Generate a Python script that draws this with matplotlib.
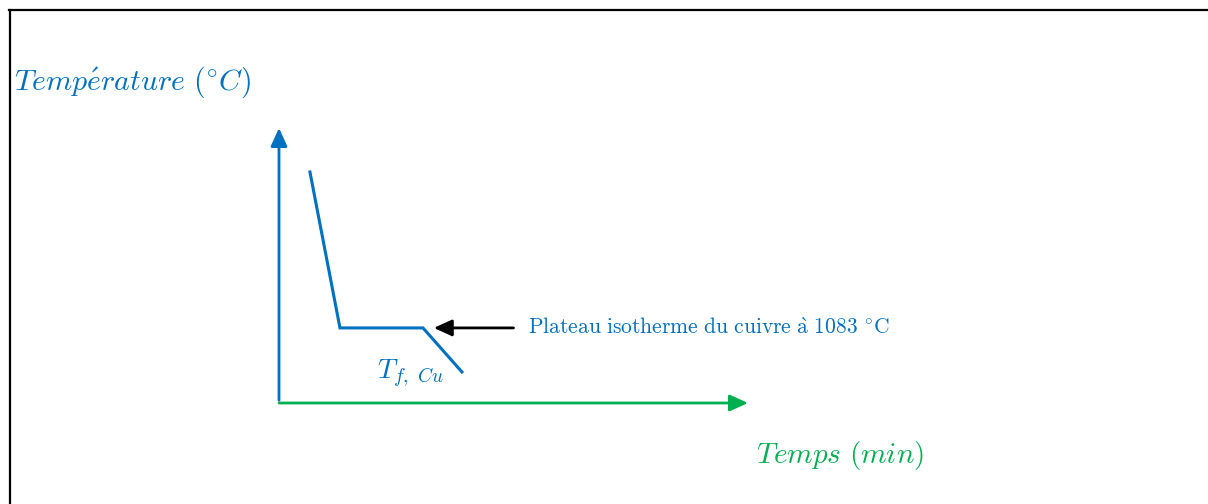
import matplotlib.pyplot as plt
from matplotlib.lines import Line2D

plt.rcParams['mathtext.fontset'] = 'cm'

BLUE = '#0070C0'
GREEN = '#00B050'

# cooling curve of copper (arbitrary units, axes 0..10)
time = [0.66, 1.30, 3.07, 3.90]
temperature = [8.4, 2.73, 2.73, 1.13]

W, H = 1208, 504
fig = plt.figure(figsize=(W / 100, H / 100), dpi=100)

# frame lines (top and left only)
fig.add_artist(Line2D([9 / W, 1], [1 - 10 / H, 1 - 10 / H], color='black', lw=1.6))
fig.add_artist(Line2D([9.5 / W, 9.5 / W], [0, 1 - 10 / H], color='black', lw=1.6))

ax = fig.add_axes([279 / W, (H - 403) / H, (748 - 279) / W, (403 - 128) / H])
ax.set_xlim(0, 10)
ax.set_ylim(0, 10)
ax.axis('off')

head = '-|>,head_length=0.55,head_width=0.25'
# y axis
ax.annotate('', xy=(0, 1), xytext=(0, 0.01), xycoords='axes fraction',
            arrowprops=dict(arrowstyle=head, color=BLUE, lw=2, mutation_scale=20,
                            shrinkA=0, shrinkB=0), annotation_clip=False)
# x axis
ax.annotate('', xy=(1, 0), xytext=(0, 0), xycoords='axes fraction',
            arrowprops=dict(arrowstyle=head, color=GREEN, lw=2, mutation_scale=20,
                            shrinkA=0, shrinkB=0), annotation_clip=False)

ax.plot(time, temperature, color=BLUE, lw=2.2, solid_joinstyle='miter', clip_on=False)

# plateau arrow
ax.annotate('', xy=(3.3, temperature[1]), xytext=(5.0, temperature[1]),
            arrowprops=dict(arrowstyle='-|>,head_length=0.55,head_width=0.25',
                            color='black', lw=2, mutation_scale=20,
                            shrinkA=0, shrinkB=0))
ax.text(5.3, temperature[1], r'$\mathrm{Plateau\ isotherme\ du\ cuivre\ \grave{a}\ 1083\ ^{\circ}C}$',
        color=BLUE, fontsize=15.5, va='center', ha='left')
ax.text(2.1, 1.1, r'$T_{f,\ Cu}$', color=BLUE, fontsize=20, va='center', ha='left')

fig.text(14 / W, 1 - 82 / H, r'$Temp\acute{e}rature\ (^{\circ}C)$', color=BLUE,
         fontsize=21.5, va='center', ha='left')
fig.text(756 / W, 1 - 456 / H, r'$Temps\ (min)$', color=GREEN,
         fontsize=21, va='center', ha='left')

fig.savefig('out.png', dpi=100)
